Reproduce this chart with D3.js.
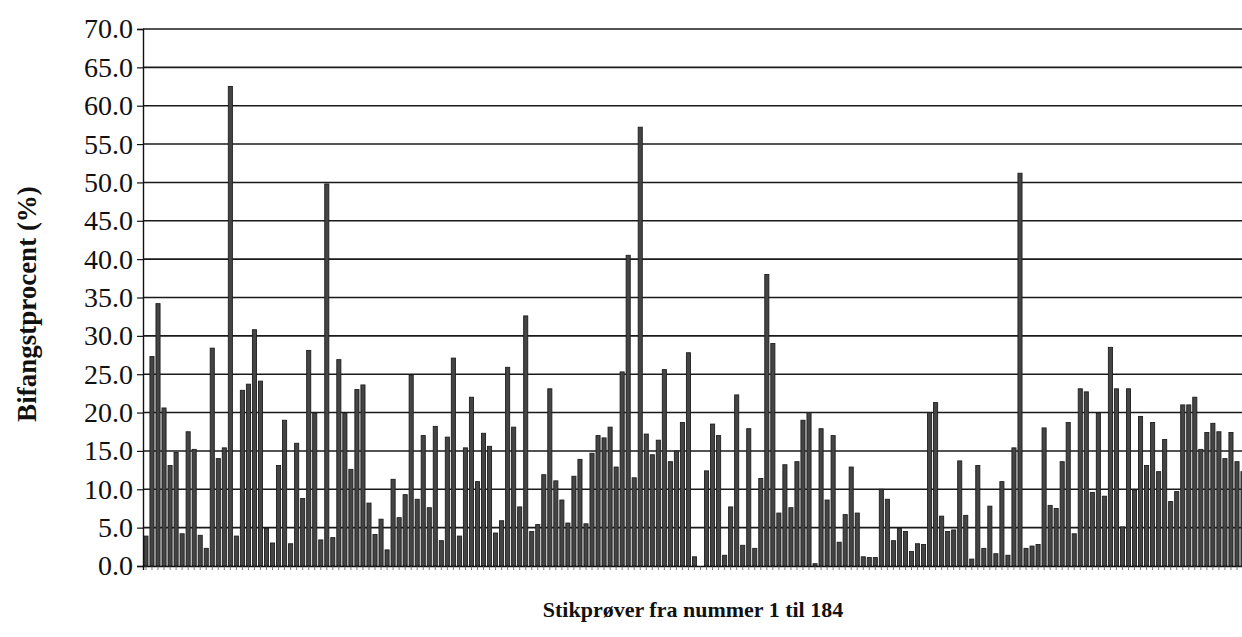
<!DOCTYPE html>
<html>
<head>
<meta charset="utf-8">
<script src="https://cdnjs.cloudflare.com/ajax/libs/d3/7.8.5/d3.min.js"></script>
<style>
  body { margin: 0; background: #fff; }
  svg { display: block; }
  text { font-family: "Liberation Serif", "Times New Roman", serif; fill: #111; }
</style>
</head>
<body>
<svg width="1242" height="637"></svg>
<script>
// bycatch percent per sample (sample 184 is cut off at the right edge)
var values = [
  3.9, 27.3, 34.2, 20.6, 13.1, 14.8, 4.2, 17.5, 15.2, 4.0, 2.3, 28.4, 14.0, 15.4, 62.5, 3.9,
  22.9, 23.7, 30.8, 24.1, 4.9, 3.0, 13.1, 19.0, 2.9, 16.0, 8.8, 28.1, 19.9, 3.4, 49.8,
  3.7, 26.9, 19.9, 12.6, 23.0, 23.6, 8.2, 4.1, 6.1, 2.1, 11.3, 6.3, 9.3, 24.9, 8.7,
  17.0, 7.6, 18.2, 3.3, 16.8, 27.1, 3.9, 15.4, 22.0, 11.0, 17.3, 15.6, 4.3, 5.9, 25.9,
  18.1, 7.7, 32.6, 4.5, 5.4, 11.9, 23.1, 11.1, 8.6, 5.6, 11.7, 13.9, 5.5, 14.7, 17.0, 16.7,
  18.1, 12.9, 25.3, 40.5, 11.5, 57.2, 17.2, 14.5, 16.4, 25.6, 13.6, 15.0, 18.7, 27.8, 1.2,
  0.0, 12.4, 18.5, 17.0, 1.4, 7.7, 22.3, 2.7, 17.9, 2.3, 11.4, 38.0, 29.0, 6.9, 13.2, 7.6,
  13.6, 19.0, 20.0, 0.3, 17.9, 8.6, 17.0, 3.1, 6.7, 12.9, 6.9, 1.2, 1.1, 1.1, 10.0,
  8.7, 3.3, 4.9, 4.5, 1.9, 2.9, 2.8, 20.0, 21.3, 6.5, 4.5, 4.7, 13.7, 6.6, 0.9,
  13.1, 2.3, 7.8, 1.6, 11.0, 1.4, 15.4, 51.2, 2.3, 2.6, 2.8, 18.0, 7.9, 7.5, 13.6,
  18.7, 4.2, 23.1, 22.7, 9.6, 19.9, 9.1, 28.5, 23.1, 5.1, 23.1, 9.9, 19.5, 13.1, 18.7,
  12.3, 16.5, 8.4, 9.7, 21.0, 21.0, 22.0, 15.2, 17.4, 18.6, 17.5, 14.0, 17.4, 13.6, 12.3,
  11.8
];
var samples = values.map(function(d, i){ return i + 1; });
var yTicks = [0, 5, 10, 15, 20, 25, 30, 35, 40, 45, 50, 55, 60, 65, 70];
var yTitle = 'Bifangstprocent (%)';
var xTitle = 'Stikprøver fra nummer 1 til 184';

var svg = d3.select('svg');
var plotLeft = 143, plotRight = 1252, plotTop = 29, plotBottom = 566;

var x = d3.scaleBand().domain(samples).range([plotLeft, plotRight]).paddingInner(0.32).paddingOuter(0.15);
var y = d3.scaleLinear().domain([0, 70]).range([plotBottom, plotTop]);

// horizontal grid lines
svg.append('g').selectAll('line').data(yTicks.slice(1)).enter().append('line')
  .attr('x1', plotLeft).attr('x2', 1242)
  .attr('y1', function(d){ return y(d); })
  .attr('y2', function(d){ return y(d); })
  .attr('stroke', '#1a1a1a').attr('stroke-width', 1.6);

// bars
svg.append('g').selectAll('rect').data(values).enter().append('rect')
  .attr('x', function(d, i){ return x(samples[i]); })
  .attr('width', x.bandwidth())
  .attr('y', function(d){ return y(d); })
  .attr('height', function(d){ return plotBottom - y(d); })
  .attr('fill', '#444')
  .attr('stroke', '#1e1e1e')
  .attr('stroke-width', 0.9);

// y axis
var yAxis = d3.axisLeft(y).tickValues(yTicks).tickFormat(d3.format('.1f')).tickSize(6).tickPadding(4);
var gy = svg.append('g').attr('transform', 'translate(' + plotLeft + ',0)').call(yAxis);
gy.select('.domain').attr('stroke', '#111').attr('stroke-width', 1.4);
gy.selectAll('.tick line').attr('stroke', '#111').attr('stroke-width', 1.2);
gy.selectAll('.tick text').style('font-size', '28px').style('font-family', '"Liberation Serif", "Times New Roman", serif').attr('fill', '#1a1a1a');

// x axis: small ticks between samples, no labels
var xAxis = d3.axisBottom(x).tickSize(4).tickFormat('');
var gx = svg.append('g').attr('transform', 'translate(0,' + plotBottom + ')').call(xAxis);
gx.select('.domain').attr('stroke', '#111').attr('stroke-width', 1.4);
gx.selectAll('.tick line').attr('stroke', '#555').attr('stroke-width', 0.8);

// titles
svg.append('text')
  .attr('transform', 'translate(30,' + 304 + ') rotate(-90)')
  .attr('text-anchor', 'middle')
  .attr('dominant-baseline', 'middle')
  .style('font-size', '27px').style('font-weight', 'bold')
  .text(yTitle);

svg.append('text')
  .attr('x', 693).attr('y', 617)
  .attr('text-anchor', 'middle')
  .style('font-size', '22px').style('font-weight', 'bold')
  .text(xTitle);
</script>
</body>
</html>
